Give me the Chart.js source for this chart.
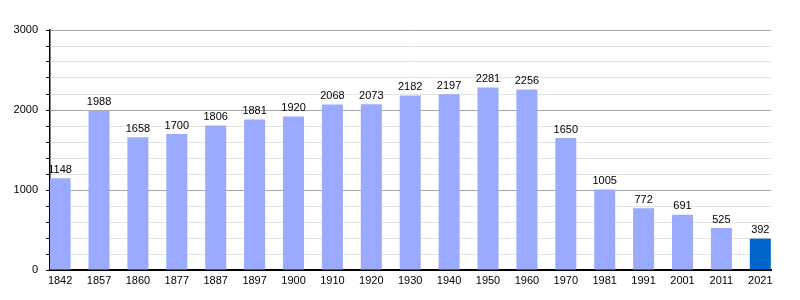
<!DOCTYPE html>
<html>
<head>
<meta charset="utf-8">
<script src="https://cdn.jsdelivr.net/npm/chart.js@4.4.0/dist/chart.umd.min.js"></script>
<style>
html,body{margin:0;padding:0;background:#fff;}
#wrap{width:800px;height:300px;position:relative;}
</style>
</head>
<body>
<div id="wrap"><canvas id="c" width="800" height="300"></canvas></div>
<script>
const years = ['1842','1857','1860','1877','1887','1897','1900','1910','1920','1930','1940','1950','1960','1970','1981','1991','2001','2011','2021'];
const population = [1148,1988,1658,1700,1806,1881,1920,2068,2073,2182,2197,2281,2256,1650,1005,772,691,525,392];
const yTicks = [0,1000,2000,3000];
const barColors = years.map((y,i)=> i===years.length-1 ? '#0066cc' : '#99aaff');
const points = population.map((v,i)=>({x:i, y:v}));

const labelPlugin = {
  id:'valueLabels',
  afterDatasetsDraw(chart){
    const ctx = chart.ctx;
    const meta = chart.getDatasetMeta(0);
    ctx.save();
    ctx.font = '11px "Liberation Sans", Arial, sans-serif';
    ctx.fillStyle = '#000';
    ctx.textAlign = 'center';
    ctx.textBaseline = 'bottom';
    meta.data.forEach((bar,i)=>{
      ctx.fillText(String(population[i]), bar.x, bar.y - 3);
    });
    ctx.restore();
  }
};

new Chart(document.getElementById('c'), {
  type:'bar',
  data:{datasets:[{data:points, backgroundColor:barColors, borderWidth:0, barPercentage:0.54, categoryPercentage:1}]},
  options:{
    responsive:false, animation:false,
    layout:{padding:{top:30,right:29,left:0,bottom:0}},
    plugins:{legend:{display:false}, tooltip:{enabled:false}},
    scales:{
      x:{
        type:'linear', min:-0.26, max:18.275, offset:false,
        afterFit(s){s.height=30;},
        afterBuildTicks(s){ s.ticks = years.map((_,i)=>({value:i})); },
        grid:{display:false, drawTicks:false},
        border:{display:true,color:'#000',width:2},
        ticks:{color:'#000',font:{family:'"Liberation Sans", Arial, sans-serif',size:11},padding:4,maxRotation:0,autoSkip:false,
          callback:(v)=> years[v] !== undefined ? years[v] : ''}
      },
      y:{
        min:0,max:3000,
        afterFit(s){s.width=50;},
        border:{display:true,color:'#000',width:1.5},
        grid:{
          color:(c)=> (c.tick && yTicks.includes(c.tick.value)) ? '#a8a8a8' : '#e4e4e4',
          tickColor:'#000', tickLength:4, drawTicks:true
        },
        ticks:{stepSize:200,autoSkip:false,color:'#000',font:{family:'"Liberation Sans", Arial, sans-serif',size:11},padding:8,
          callback:(v)=> yTicks.includes(v) ? String(v) : ''}
      }
    }
  },
  plugins:[labelPlugin]
});
</script>
</body>
</html>
